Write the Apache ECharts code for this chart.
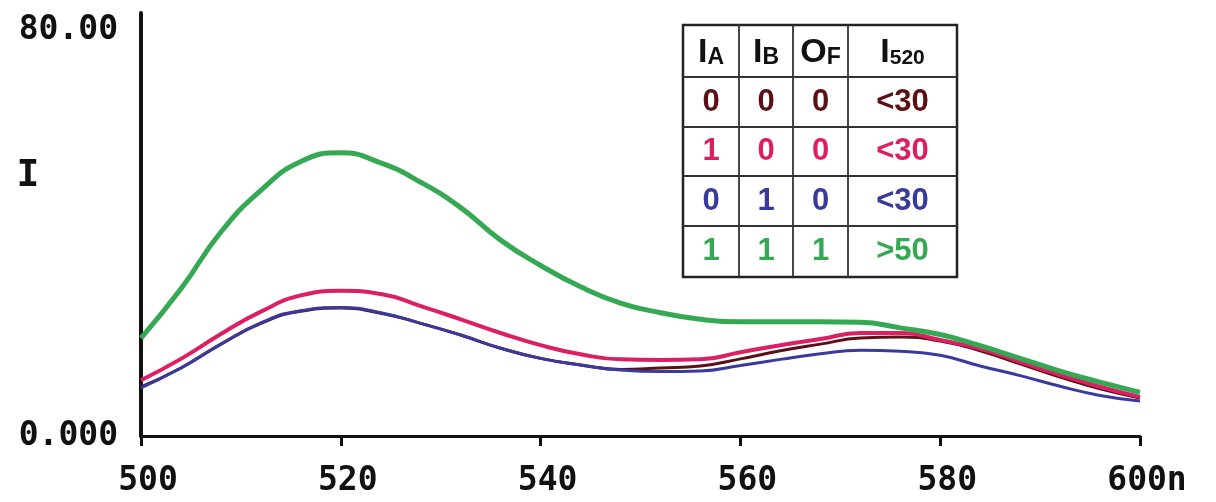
<!DOCTYPE html>
<html>
<head>
<meta charset="utf-8">
<script src="https://cdn.jsdelivr.net/npm/echarts@6/dist/echarts.min.js"></script>
<style>
  html, body { margin: 0; padding: 0; background: #fff; }
  #main { width: 1216px; height: 502px; }
</style>
</head>
<body>
<div id="main"></div>
<script>
// 波長 (nm)
const wavelengths = [500, 504, 508, 512, 516, 520, 524, 528, 532, 536, 540, 544, 548,
                     552, 556, 560, 564, 568, 572, 576, 580, 584, 588, 592, 596, 600];

// 各入力状態の蛍光強度
const green = [19.3, 29.0, 40.2, 48.4, 54.1, 55.8, 53.8, 50.0, 45.0, 38.6, 33.6, 29.4, 26.2,
               24.3, 23.0, 22.5, 22.5, 22.5, 22.4, 21.3, 20.0, 17.8, 15.3, 12.8, 10.6, 8.6];
const pink  = [11.0, 15.2, 20.1, 24.5, 27.7, 28.6, 28.0, 25.6, 23.0, 20.3, 17.9, 16.1, 15.1,
               15.0, 15.1, 16.5, 17.9, 19.1, 20.3, 20.3, 18.9, 17.2, 14.6, 12.0, 9.7, 7.7];
const brown = [9.7, 13.4, 18.1, 22.2, 24.6, 25.2, 24.2, 22.2, 19.9, 17.3, 15.3, 14.0, 13.1,
               13.4, 13.8, 15.2, 16.8, 18.1, 19.3, 19.5, 18.7, 16.8, 14.2, 11.6, 9.3, 7.5];
const blue  = [9.5, 13.4, 18.1, 22.3, 24.7, 25.3, 24.3, 22.2, 19.9, 17.3, 15.3, 14.0, 13.0,
               12.7, 12.8, 13.9, 15.1, 16.2, 16.9, 16.7, 15.9, 13.8, 11.9, 9.8, 8.0, 6.9];

// 真理値表
const tableHead = [['I', 'A'], ['I', 'B'], ['O', 'F'], ['I', '520']];
const tableRows = [
  ['0', '0', '0', '<30'],
  ['1', '0', '0', '<30'],
  ['0', '1', '0', '<30'],
  ['1', '1', '1', '>50']
];

const colBrown = '#5a1014';
const colPink = '#dc1f63';
const colBlue = '#3a3a9c';
const colGreen = '#34a853';
const rowColors = [colBrown, colPink, colBlue, colGreen];

const toPairs = arr => wavelengths.map((w, i) => [w, arr[i]]);

// 表の枠
const colEdges = [683, 739, 793, 848, 957];
const rowEdges = [25, 77, 127, 176, 226, 277];
const tableEls = [];
tableEls.push({
  type: 'rect',
  shape: { x: colEdges[0], y: rowEdges[0], width: colEdges[4] - colEdges[0], height: rowEdges[5] - rowEdges[0] },
  style: { fill: '#fff', stroke: '#222', lineWidth: 2.5 }
});
for (let i = 1; i < colEdges.length - 1; i++) {
  tableEls.push({ type: 'line', shape: { x1: colEdges[i], y1: rowEdges[0], x2: colEdges[i], y2: rowEdges[5] },
    style: { stroke: '#333', lineWidth: 1.8 } });
}
for (let j = 1; j < rowEdges.length - 1; j++) {
  tableEls.push({ type: 'line', shape: { x1: colEdges[0], y1: rowEdges[j], x2: colEdges[4], y2: rowEdges[j] },
    style: { stroke: '#333', lineWidth: 1.8 } });
}
const cx = i => (colEdges[i] + colEdges[i + 1]) / 2;
const cy = j => (rowEdges[j] + rowEdges[j + 1]) / 2;
tableHead.forEach((h, i) => {
  tableEls.push({
    type: 'text',
    x: cx(i), y: cy(0) + 2,
    style: {
      text: '{b|' + h[0] + '}{s|' + h[1] + '}',
      align: 'center', verticalAlign: 'middle',
      rich: {
        b: { fontFamily: 'Liberation Sans', fontWeight: 'bold', fontSize: 34, fill: '#111', verticalAlign: 'bottom' },
        s: { fontFamily: 'Liberation Sans', fontWeight: 'bold', fontSize: i === 3 ? 21 : 23, fill: '#111', verticalAlign: 'bottom', padding: [0, 0, 1, 0] }
      }
    }
  });
});
tableRows.forEach((row, j) => {
  row.forEach((t, i) => {
    tableEls.push({
      type: 'text',
      x: cx(i), y: cy(j + 1),
      style: {
        text: t, align: 'center', verticalAlign: 'middle',
        fontFamily: 'Liberation Sans', fontWeight: 'bold', fontSize: 31, fill: rowColors[j]
      }
    });
  });
});

const axisFont = { fontFamily: 'DejaVu Sans Mono', fontWeight: 'bold', fontSize: 33, color: '#111' };

const myChart = echarts.init(document.getElementById('main'));
const option = {
  backgroundColor: '#fff',
  animation: false,
  grid: { left: 141, right: 76, top: 13, bottom: 66 },
  xAxis: {
    type: 'value', min: 500, max: 600, interval: 20,
    axisLine: { lineStyle: { color: '#111', width: 3 } },
    axisTick: { show: true, length: 10, lineStyle: { color: '#111', width: 3 } },
    splitLine: { show: false },
    axisLabel: Object.assign({}, axisFont, {
      margin: 29,
      padding: [0, 0, 0, 14],
      formatter: v => (v === 600 ? '600n' : String(v))
    })
  },
  yAxis: {
    type: 'value', min: 0, max: 83.35, interval: 80,
    axisLine: { show: true, lineStyle: { color: '#111', width: 4 } },
    axisTick: { show: false },
    splitLine: { show: false },
    axisLabel: Object.assign({}, axisFont, {
      margin: 23,
      padding: [0, 0, 14, 0],
      formatter: v => (v === 0 ? '0.000' : v === 80 ? '80.00' : '')
    })
  },
  graphic: [
    { type: 'text', x: 28, y: 176, style: { text: 'I', align: 'center', verticalAlign: 'middle',
      fontFamily: 'DejaVu Sans Mono', fontWeight: 'bold', fontSize: 38, fill: '#111' } },
    { type: 'group', children: tableEls }
  ],
  series: [
    { name: '000', type: 'line', data: toPairs(brown), smooth: true, showSymbol: false,
      lineStyle: { color: colBrown, width: 3 } },
    { name: '010', type: 'line', data: toPairs(blue), smooth: true, showSymbol: false,
      lineStyle: { color: colBlue, width: 3 } },
    { name: '100', type: 'line', data: toPairs(pink), smooth: true, showSymbol: false,
      lineStyle: { color: colPink, width: 4 } },
    { name: '111', type: 'line', data: toPairs(green), smooth: true, showSymbol: false,
      lineStyle: { color: colGreen, width: 5 } }
  ]
};
myChart.setOption(option);
</script>
</body>
</html>
